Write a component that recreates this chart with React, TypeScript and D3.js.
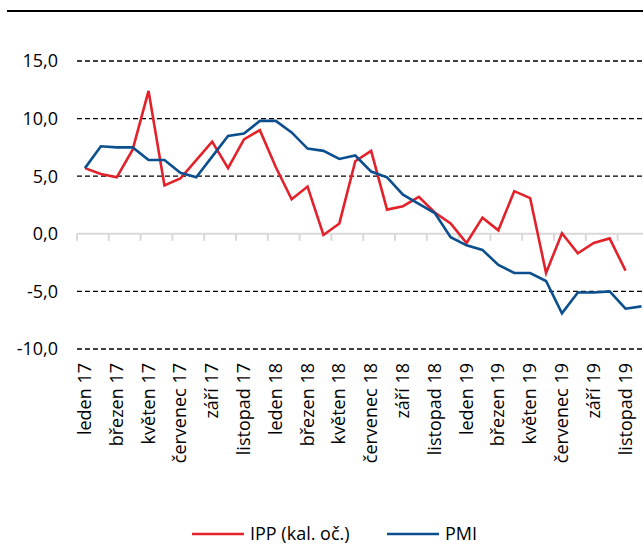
import React from "react";
import * as d3 from "d3";

const monthNames = ["leden", "únor", "březen", "duben", "květen", "červen", "červenec", "srpen", "září", "říjen", "listopad", "prosinec"];
const years = ["17", "18", "19"];
const categories: string[] = years.flatMap((y) => monthNames.map((m) => `${m} ${y}`));

const ippValues: (number | null)[] = [5.7, 5.2, 4.9, 7.3, 12.4, 4.2, 4.8, 6.4, 8.0, 5.7, 8.2, 9.0, 5.8, 3.0, 4.1, -0.1, 0.9, 6.3, 7.2, 2.1, 2.4, 3.2, 1.85, 0.9, -0.8, 1.4, 0.3, 3.7, 3.1, -3.4, 0.05, -1.7, -0.8, -0.4, -3.2, null];
const pmiValues: (number | null)[] = [5.7, 7.6, 7.5, 7.5, 6.4, 6.4, 5.3, 4.9, 6.7, 8.5, 8.7, 9.8, 9.8, 8.8, 7.4, 7.2, 6.5, 6.8, 5.4, 4.9, 3.4, 2.6, 1.8, -0.3, -1.0, -1.4, -2.7, -3.4, -3.4, -4.1, -6.9, -5.1, -5.1, -5.0, -6.5, -6.3];
const yTicks = [-10, -5, 0, 5, 10, 15];
const seriesNames = ["IPP (kal. oč.)", "PMI"];

const W = 643;
const H = 554;
const FONT = "'Open Sans', 'DejaVu Sans', sans-serif";
const RED = "#e3212b";
const BLUE = "#0b4f8e";

export default function App() {
  const x = d3.scaleBand<string>().domain(categories).range([77, 77 + 36 * 15.9]).padding(0);
  const y = d3.scaleLinear().domain([-10, 15]).range([349, 61]);
  const cx = (i: number) => (x(categories[i]) as number) + x.bandwidth() / 2;

  const line = d3
    .line<number | null>()
    .defined((d) => d !== null)
    .x((_, i) => cx(i))
    .y((d) => y(d as number));

  const fmt = (v: number) => d3.format(".1f")(v).replace(".", ",").replace("−", "-");
  const tickIdx = d3.range(0, 37, 2);

  return (
    <svg width={W} height={H} style={{ position: "absolute", left: 0, top: 0, display: "block", background: "#fff" }}>
      <line x1={7} x2={W} y1={11} y2={11} stroke="#000" strokeWidth={2.2} />
      {yTicks.map((t) =>
        t === 0 ? null : (
          <line key={"g" + t} x1={77} x2={W} y1={y(t)} y2={y(t)} stroke="#000" strokeWidth={1.3} strokeDasharray="5,3" />
        )
      )}
      <line x1={77} x2={W} y1={y(0)} y2={y(0)} stroke="#d9d9d9" strokeWidth={2} />
      {tickIdx.map((k) => {
        const xx = 77 + k * x.bandwidth();
        return xx <= W ? <line key={"t" + k} x1={xx} x2={xx} y1={y(0)} y2={y(0) + 7} stroke="#d9d9d9" strokeWidth={2} /> : null;
      })}
      {yTicks.map((t) => (
        <text key={"l" + t} x={58} y={y(t)} dy="0.35em" textAnchor="end" fontFamily={FONT} fontSize={18} fill="#000">
          {fmt(t)}
        </text>
      ))}
      {categories.map((c, i) =>
        i % 2 === 0 ? (
          <text
            key={"c" + i}
            transform={`translate(${cx(i) + 6},363) rotate(-90)`}
            textAnchor="end"
            fontFamily={FONT}
            fontSize={18}
            fill="#000"
          >
            {c}
          </text>
        ) : null
      )}
      <path d={line(ippValues) || ""} fill="none" stroke={RED} strokeWidth={2.6} strokeLinejoin="miter" />
      <path d={line(pmiValues) || ""} fill="none" stroke={BLUE} strokeWidth={2.6} strokeLinejoin="miter" />
      <g fontFamily={FONT} fontSize={18} fill="#000">
        <line x1={192} x2={244} y1={534} y2={534} stroke={RED} strokeWidth={2.6} />
        <text x={250} y={534} dy="0.35em">{seriesNames[0]}</text>
        <line x1={387} x2={439} y1={534} y2={534} stroke={BLUE} strokeWidth={2.6} />
        <text x={445} y={534} dy="0.35em">{seriesNames[1]}</text>
      </g>
    </svg>
  );
}
